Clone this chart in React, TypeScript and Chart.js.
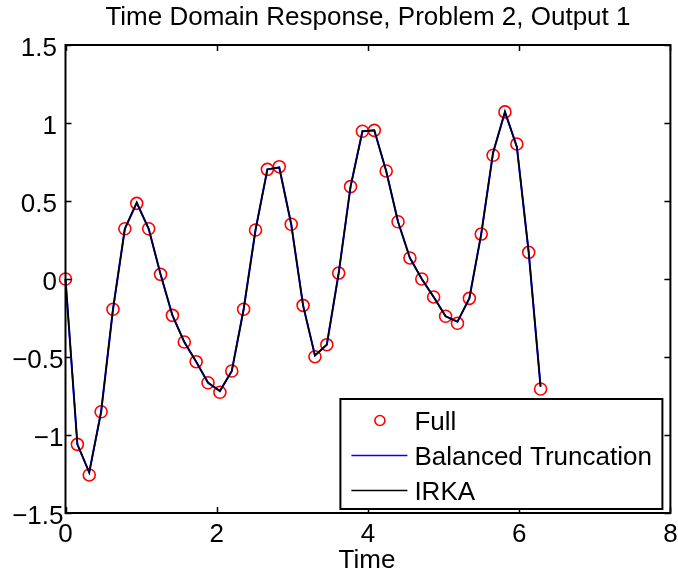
import React, { useEffect, useRef } from "react";
import { Chart, registerables } from "chart.js";

Chart.register(...registerables);

const TITLE = "Time Domain Response, Problem 2, Output 1";
const X_LABEL = "Time";
const SERIES_NAMES = ["Full", "Balanced Truncation", "IRKA"];

const TIME = [
  0, 0.157, 0.314, 0.471, 0.628, 0.785, 0.942, 1.1, 1.257, 1.414, 1.571,
  1.728, 1.885, 2.042, 2.199, 2.356, 2.513, 2.67, 2.827, 2.985, 3.142,
  3.299, 3.456, 3.613, 3.77, 3.927, 4.084, 4.241, 4.398, 4.555, 4.712,
  4.869, 5.027, 5.184, 5.341, 5.498, 5.655, 5.812, 5.969, 6.126, 6.283,
];

const FULL = [
  0, -1.06, -1.256, -0.851, -0.194, 0.322, 0.485, 0.322, 0.03, -0.233, -0.404,
  -0.53, -0.665, -0.726, -0.59, -0.194, 0.314, 0.703, 0.72, 0.351, -0.169,
  -0.498, -0.421, 0.038, 0.592, 0.947, 0.953, 0.692, 0.367, 0.135, 0.0,
  -0.115, -0.239, -0.284, -0.124, 0.288, 0.793, 1.071, 0.865, 0.171, -0.705,
];

const BALANCED = [
  0, -1.06, -1.24, -0.851, -0.194, 0.322, 0.489, 0.322, 0.03, -0.233, -0.404,
  -0.53, -0.665, -0.718, -0.59, -0.194, 0.314, 0.703, 0.715, 0.351, -0.169,
  -0.49, -0.421, 0.038, 0.592, 0.947, 0.953, 0.692, 0.367, 0.135, 0.0,
  -0.115, -0.239, -0.274, -0.124, 0.288, 0.81, 1.071, 0.848, 0.171, -0.69,
];

const IRKA = [
  0, -1.06, -1.24, -0.851, -0.194, 0.322, 0.489, 0.322, 0.03, -0.233, -0.404,
  -0.53, -0.665, -0.718, -0.59, -0.194, 0.314, 0.703, 0.715, 0.351, -0.169,
  -0.49, -0.421, 0.038, 0.592, 0.947, 0.953, 0.692, 0.367, 0.135, 0.0,
  -0.115, -0.239, -0.274, -0.124, 0.288, 0.81, 1.071, 0.848, 0.171, -0.69,
];

const X_TICKS = [0, 2, 4, 6, 8];
const Y_TICKS = [-1.5, -1, -0.5, 0, 0.5, 1, 1.5];

const FONT = '"Liberation Sans", Arial, Helvetica, sans-serif';
const FONT_SIZE = 26;

const fmt = (v: number) => {
  const s = String(Math.abs(v));
  return v < 0 ? "\u2212" + s : s;
};

const matlabAxes = {
  id: "matlabAxes",
  afterDatasetsDraw(chart: any) {
    const { ctx, chartArea: a, scales } = chart;
    const x = scales.x;
    const y = scales.y;
    ctx.save();
    ctx.strokeStyle = "#000";
    ctx.lineWidth = 1.5;
    ctx.beginPath();
    X_TICKS.forEach((v) => {
      const px = Math.round(x.getPixelForValue(v)) + 0.5;
      ctx.moveTo(px, a.bottom);
      ctx.lineTo(px, a.bottom - 6);
      ctx.moveTo(px, a.top);
      ctx.lineTo(px, a.top + 6);
    });
    Y_TICKS.forEach((v) => {
      const py = Math.round(y.getPixelForValue(v)) + 0.5;
      ctx.moveTo(a.left, py);
      ctx.lineTo(a.left + 6, py);
      ctx.moveTo(a.right, py);
      ctx.lineTo(a.right - 6, py);
    });
    ctx.stroke();
    ctx.lineWidth = 2;
    ctx.strokeRect(a.left, a.top, a.right - a.left, a.bottom - a.top);

    // legend box (MATLAB style, inside the axes, lower right)
    const ds = chart.data.datasets;
    const bw = 322;
    const bh = 110;
    const bx = a.right - 8 - bw;
    const by = a.bottom - 4 - bh;
    ctx.fillStyle = "#fff";
    ctx.fillRect(bx, by, bw, bh);
    ctx.lineWidth = 2;
    ctx.strokeStyle = "#000";
    ctx.strokeRect(bx, by, bw, bh);
    const rows = [by + 21.5, by + 56.5, by + 91.5];
    ctx.font = `${FONT_SIZE}px ${FONT}`;
    ctx.textAlign = "left";
    ctx.textBaseline = "alphabetic";
    ds.forEach((d: any, i: number) => {
      const cy = rows[i];
      if (d.showLine === false) {
        ctx.beginPath();
        ctx.strokeStyle = d.pointBorderColor;
        ctx.lineWidth = d.pointBorderWidth;
        ctx.arc(bx + 39.5, cy, 5, 0, Math.PI * 2);
        ctx.stroke();
      } else {
        ctx.beginPath();
        ctx.strokeStyle = d.borderColor;
        ctx.lineWidth = 1.5;
        ctx.moveTo(bx + 11, cy);
        ctx.lineTo(bx + 67, cy);
        ctx.stroke();
      }
      ctx.fillStyle = "#000";
      ctx.fillText(d.label, bx + 74, cy + 9.3);
    });
    ctx.restore();
  },
  afterDraw(chart: any) {
    const { ctx, chartArea: a, scales } = chart;
    const x = scales.x;
    const y = scales.y;
    ctx.save();
    ctx.fillStyle = "#000";
    ctx.font = `${FONT_SIZE}px ${FONT}`;
    ctx.textBaseline = "alphabetic";
    ctx.textAlign = "right";
    Y_TICKS.forEach((v) => {
      const py = y.getPixelForValue(v);
      const px = v < 0 ? a.left - 2 : a.left - 8.5;
      ctx.fillText(fmt(v), px, py + 11.3);
    });
    ctx.textAlign = "center";
    X_TICKS.forEach((v) => {
      const px = x.getPixelForValue(v);
      ctx.fillText(fmt(v), px, a.bottom + 29);
    });
    ctx.fillText(X_LABEL, (a.left + a.right) / 2 - 1, a.bottom + 55);
    ctx.restore();
  },
};

export default function App() {
  const ref = useRef<HTMLCanvasElement | null>(null);

  useEffect(() => {
    if (!ref.current) return;
    const pts = (ys: number[]) => TIME.map((t, i) => ({ x: t, y: ys[i] }));
    const chart = new Chart(ref.current, {
      type: "scatter",
      data: {
        datasets: [
          {
            label: SERIES_NAMES[0],
            data: pts(FULL),
            showLine: false,
            pointStyle: "circle",
            pointRadius: 6,
            pointBorderWidth: 1.6,
            pointBorderColor: "#ff0000",
            pointBackgroundColor: "rgba(0,0,0,0)",
            borderColor: "#ff0000",
            backgroundColor: "rgba(0,0,0,0)",
            clip: false,
            order: 3,
          } as any,
          {
            label: SERIES_NAMES[1],
            data: pts(BALANCED),
            showLine: true,
            borderColor: "#0000ff",
            backgroundColor: "#0000ff",
            borderWidth: 2,
            pointRadius: 0,
            tension: 0,
            clip: false,
            order: 2,
          } as any,
          {
            label: SERIES_NAMES[2],
            data: pts(IRKA),
            showLine: true,
            borderColor: "#000000",
            backgroundColor: "#000000",
            borderWidth: 1.6,
            pointRadius: 0,
            tension: 0,
            clip: false,
            order: 1,
          } as any,
        ],
      },
      options: {
        animation: false,
        responsive: false,
        devicePixelRatio: 1,
        layout: { padding: { left: 65.5, right: 6, top: 0, bottom: 64 } },
        scales: {
          x: { type: "linear", min: 0, max: 8, display: false },
          y: { type: "linear", min: -1.5, max: 1.5, display: false },
        },
        plugins: {
          legend: { display: false },
          tooltip: { enabled: false },
          title: {
            display: true,
            text: TITLE,
            fullSize: false,
            color: "#000",
            font: { family: FONT, size: FONT_SIZE, weight: "normal" as any, lineHeight: 1.2 },
            padding: { top: 2.5, bottom: 11.3 },
          },
        },
      },
      plugins: [matlabAxes],
    });
    return () => chart.destroy();
  }, []);

  return (
    <div style={{ position: "fixed", left: 0, top: 0, width: 678, height: 577, background: "#fff" }}>
      <canvas ref={ref} width={678} height={577} style={{ display: "block" }} />
    </div>
  );
}
